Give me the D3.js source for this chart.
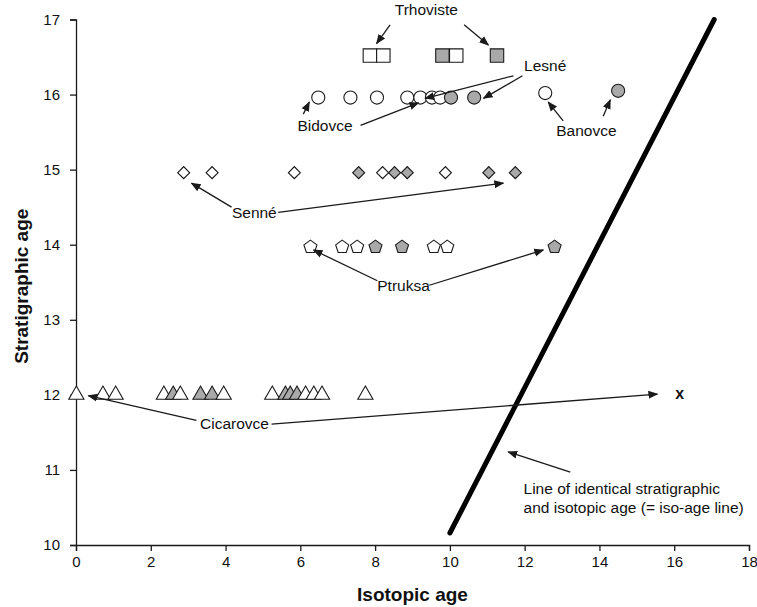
<!DOCTYPE html>
<html>
<head>
<meta charset="utf-8">
<script src="https://cdn.jsdelivr.net/npm/d3@7"></script>
<style>
  body { margin: 0; background: #fff; }
  svg text { font-family: "Liberation Sans", Arial, Helvetica, sans-serif; fill: #111; }
</style>
</head>
<body>
<svg width="757" height="607"></svg>
<script>
// stratigraphic vs isotopic age, one row per locality
var trhovisteX = [7.86, 8.22, 9.80, 10.17, 11.26];
var trhovisteFill = ["o", "o", "g", "o", "g"];
var trhovisteY = 16.52;

var bidovceX = [6.48, 7.34, 8.05, 8.86, 9.21, 9.52, 9.74];
var lesneX = [10.03, 10.65];
var circleY = 15.96;
var banovceX = [12.55, 14.50];
var banovceFill = ["o", "g"];
var banovceY = [16.02, 16.05];

var senneX = [2.88, 3.64, 5.84, 7.56, 8.20, 8.52, 8.86, 9.88, 11.04, 11.75];
var senneFill = ["o", "o", "o", "g", "o", "g", "g", "o", "g", "g"];
var senneY = 14.96;

var ptruksaX = [6.27, 7.12, 7.52, 8.01, 8.72, 9.57, 9.93, 12.80];
var ptruksaFill = ["o", "o", "o", "g", "g", "o", "o", "g"];
var ptruksaY = 13.97;

var cicarovceX = [0.01, 0.72, 1.06, 2.35, 2.60, 2.79, 3.33, 3.64, 3.95, 5.25, 5.60, 5.73, 5.91, 6.14, 6.36, 6.58, 7.74];
var cicarovceFill = ["o", "o", "o", "o", "g", "o", "g", "g", "o", "o", "g", "g", "g", "o", "o", "o", "o"];
var cicarovceY = 12.0;

// iso-age line end points [isotopic, stratigraphic]
var isoLine = [[10.0, 10.16], [17.07, 17.0]];

var xTicks = [0, 2, 4, 6, 8, 10, 12, 14, 16, 18];
var yTicks = [10, 11, 12, 13, 14, 15, 16, 17];

// labels and arrows, in data units
var labels = [
  {text: "Trhoviste", x: 9.37, y: 17.13},
  {text: "Lesné", x: 12.55, y: 16.39},
  {text: "Bidovce", x: 6.66, y: 15.59},
  {text: "Banovce", x: 13.65, y: 15.52},
  {text: "Senné", x: 4.77, y: 14.43},
  {text: "Ptruksa", x: 8.76, y: 13.46},
  {text: "Cicarovce", x: 4.24, y: 11.62}
];
var arrows = [
  [8.40, 16.93, 8.04, 16.68], [10.38, 16.93, 11.03, 16.66],
  [11.70, 16.25, 9.34, 15.95], [11.94, 16.25, 10.90, 15.95],
  [6.08, 15.74, 6.24, 15.90], [7.61, 15.59, 9.16, 15.89],
  [13.03, 15.65, 12.63, 15.90], [14.10, 15.71, 14.29, 15.93],
  [4.16, 14.50, 3.09, 14.82], [5.41, 14.43, 11.43, 14.82],
  [8.06, 13.52, 6.35, 13.93], [9.45, 13.46, 12.50, 13.93],
  [3.22, 11.66, 0.33, 11.99], [5.23, 11.61, 15.55, 12.01],
  [13.22, 10.97, 11.56, 11.24]
];
var isoText = ["Line of identical stratigraphic", "and isotopic age (= iso-age line)"];
var isoTextPos = [11.97, 10.75];
var xMark = [16.03, 12.02];

var svg = d3.select("svg");
var width = +svg.attr("width"),
    height = +svg.attr("height");

var x = d3.scaleLinear().domain([0, 18]).range([76, 749]);
var y = d3.scaleLinear().domain([10, 17]).range([545, 19.5]);

var grey = "#a9a9a9", ink = "#1a1a1a";

// arrow head
svg.append("defs").append("marker")
  .attr("id", "head")
  .attr("viewBox", "0 0 10 10")
  .attr("refX", 9).attr("refY", 5)
  .attr("markerWidth", 10).attr("markerHeight", 10)
  .attr("markerUnits", "userSpaceOnUse")
  .attr("orient", "auto")
  .append("path")
  .attr("d", "M0,1 L10,5 L0,9 Z")
  .attr("fill", ink);

// axes
var xAxis = svg.append("g")
  .attr("transform", "translate(0," + y(10) + ")")
  .call(d3.axisBottom(x).tickValues(xTicks).tickFormat(d3.format("d")).tickSize(6).tickPadding(5));
var yAxis = svg.append("g")
  .attr("transform", "translate(" + x(0) + ",0)")
  .call(d3.axisLeft(y).tickValues(yTicks).tickFormat(d3.format("d")).tickSize(6).tickPadding(10));
[xAxis, yAxis].forEach(function(a) {
  a.select(".domain").attr("stroke", ink).attr("stroke-width", 1.3);
  a.selectAll(".tick line").attr("stroke", ink).attr("stroke-width", 1.3);
  a.selectAll(".tick text").attr("font-size", 15).attr("fill", ink)
    .style("font-family", "'Liberation Sans', Arial, sans-serif");
});

svg.append("text")
  .attr("x", (x(0) + x(18)) / 2).attr("y", 601)
  .attr("text-anchor", "middle")
  .attr("font-size", 19).attr("font-weight", "bold")
  .text("Isotopic age");
svg.append("text")
  .attr("transform", "translate(28," + (y(13.5) + 4) + ") rotate(-90)")
  .attr("text-anchor", "middle")
  .attr("font-size", 19).attr("font-weight", "bold")
  .text("Stratigraphic age");

// iso-age line
svg.append("line")
  .attr("x1", x(isoLine[0][0])).attr("y1", y(isoLine[0][1]))
  .attr("x2", x(isoLine[1][0])).attr("y2", y(isoLine[1][1]))
  .attr("stroke", "#000").attr("stroke-width", 5).attr("stroke-linecap", "round");

// pentagon symbol
var symbolPentagon = {
  draw: function(context, size) {
    var r = Math.sqrt(size / (2.5 * Math.sin(2 * Math.PI / 5)));
    for (var i = 0; i < 5; i++) {
      var a = -Math.PI / 2 + i * 2 * Math.PI / 5;
      if (i == 0) context.moveTo(r * Math.cos(a), r * Math.sin(a));
      else context.lineTo(r * Math.cos(a), r * Math.sin(a));
    }
    context.closePath();
  }
};

var pts = svg.append("g");
function drawRow(xs, ys, fills, type, size, rot) {
  pts.append("g").selectAll("path")
    .data(xs)
    .enter().append("path")
    .attr("d", d3.symbol().type(type).size(size))
    .attr("transform", function(d, i) {
      var yy = Array.isArray(ys) ? ys[i] : ys;
      return "translate(" + x(d) + "," + y(yy) + ")" + (rot ? " rotate(" + rot + ")" : "");
    })
    .attr("fill", function(d, i) {
      var f = Array.isArray(fills) ? fills[i] : fills;
      return f == "g" ? grey : "#fff";
    })
    .attr("stroke", ink)
    .attr("stroke-width", 1.1);
}

drawRow(cicarovceX, cicarovceY, cicarovceFill, d3.symbolTriangle, 100);
drawRow(ptruksaX, ptruksaY, ptruksaFill, symbolPentagon, 112);
drawRow(senneX, senneY, senneFill, d3.symbolSquare, 72, 45);
drawRow(bidovceX, circleY, "o", d3.symbolCircle, 135);
drawRow(lesneX, circleY, "g", d3.symbolCircle, 135);
drawRow(banovceX, banovceY, banovceFill, d3.symbolCircle, 135);
drawRow(trhovisteX, trhovisteY, trhovisteFill, d3.symbolSquare, 180);

// annotation arrows
svg.append("g").selectAll("line")
  .data(arrows)
  .enter().append("line")
  .attr("x1", function(d) { return x(d[0]); })
  .attr("y1", function(d) { return y(d[1]); })
  .attr("x2", function(d) { return x(d[2]); })
  .attr("y2", function(d) { return y(d[3]); })
  .attr("stroke", ink).attr("stroke-width", 1.3)
  .attr("marker-end", "url(#head)");

svg.append("g").selectAll("text")
  .data(labels)
  .enter().append("text")
  .attr("x", function(d) { return x(d.x); })
  .attr("y", function(d) { return y(d.y); })
  .attr("dy", "0.35em")
  .attr("text-anchor", "middle")
  .attr("font-size", 15.5)
  .text(function(d) { return d.text; });

svg.append("text")
  .attr("x", x(xMark[0])).attr("y", y(xMark[1]))
  .attr("dy", "0.35em")
  .attr("font-size", 16).attr("font-weight", "bold")
  .text("x");

svg.append("g").selectAll("text")
  .data(isoText)
  .enter().append("text")
  .attr("x", x(isoTextPos[0]))
  .attr("y", function(d, i) { return y(isoTextPos[1]) + i * 19; })
  .attr("dy", "0.35em")
  .attr("font-size", 15.5)
  .text(function(d) { return d; });
</script>
</body>
</html>
